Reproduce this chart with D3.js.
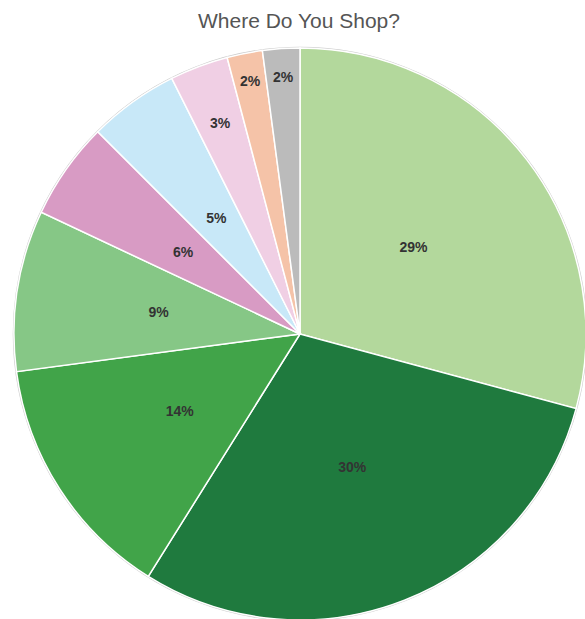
<!DOCTYPE html>
<html><head><meta charset="utf-8">
<script src="https://cdn.jsdelivr.net/npm/d3@7"></script>
<style>body{margin:0;background:#fff}</style>
</head><body>
<svg id="c" width="585" height="619"></svg>
<script>
const categories = ["Store A","Store B","Store C","Store D","Store E","Store F","Store G","Store H","Store I"];
const values = [29.2, 29.7, 14.0, 9.1, 5.5, 5.1, 3.3, 2.0, 2.1];
const colors = ["#b3d89c","#1f7a3e","#41a449","#86c786","#d89bc4","#c8e8f8","#f0cfe4","#f5c3a8","#bbbbbb"];
const title = "Where Do You Shop?";

const svg = d3.select("#c");
const cx = 300, cy = 334, r = 286;
svg.append("text").attr("x", 299).attr("y", 28).attr("text-anchor","middle")
  .attr("font-family","'Liberation Sans', Arial, sans-serif").attr("font-size", 21).attr("fill","#555").text(title);

const data = categories.map((c,i)=>({c, v: values[i], col: colors[i]}));
const pie = d3.pie().value(d=>d.v).sort(null);
const arc = d3.arc().innerRadius(0).outerRadius(r);
const g = svg.append("g").attr("transform",`translate(${cx},${cy})`);
g.append("circle").attr("r", r+0.5).attr("fill","none").attr("stroke","#ccc").attr("stroke-width",1.5);
const arcs = pie(data);
g.selectAll("path").data(arcs).join("path").attr("d", arc).attr("fill", d=>d.data.col)
  .attr("stroke","#fff").attr("stroke-width",1.5);
const labels = g.selectAll("text").data(arcs).join("text")
  .attr("text-anchor","middle").attr("dy","0.35em")
  .attr("font-family","'Liberation Sans', Arial, sans-serif").attr("font-weight","bold").attr("font-size",14).attr("fill","#333")
  .text(d=>Math.round(d.data.v)+"%");
labels.attr("transform", function(d){
  const w = this.getComputedTextLength();
  const ang = d.endAngle - d.startAngle;
  const rho = Math.max(r*0.5, Math.min(r*0.9, 0.48*w/(ang*ang)));
  const a = (d.startAngle + d.endAngle)/2;
  return `translate(${rho*Math.sin(a)},${-rho*Math.cos(a)})`;
});
</script>
</body></html>
